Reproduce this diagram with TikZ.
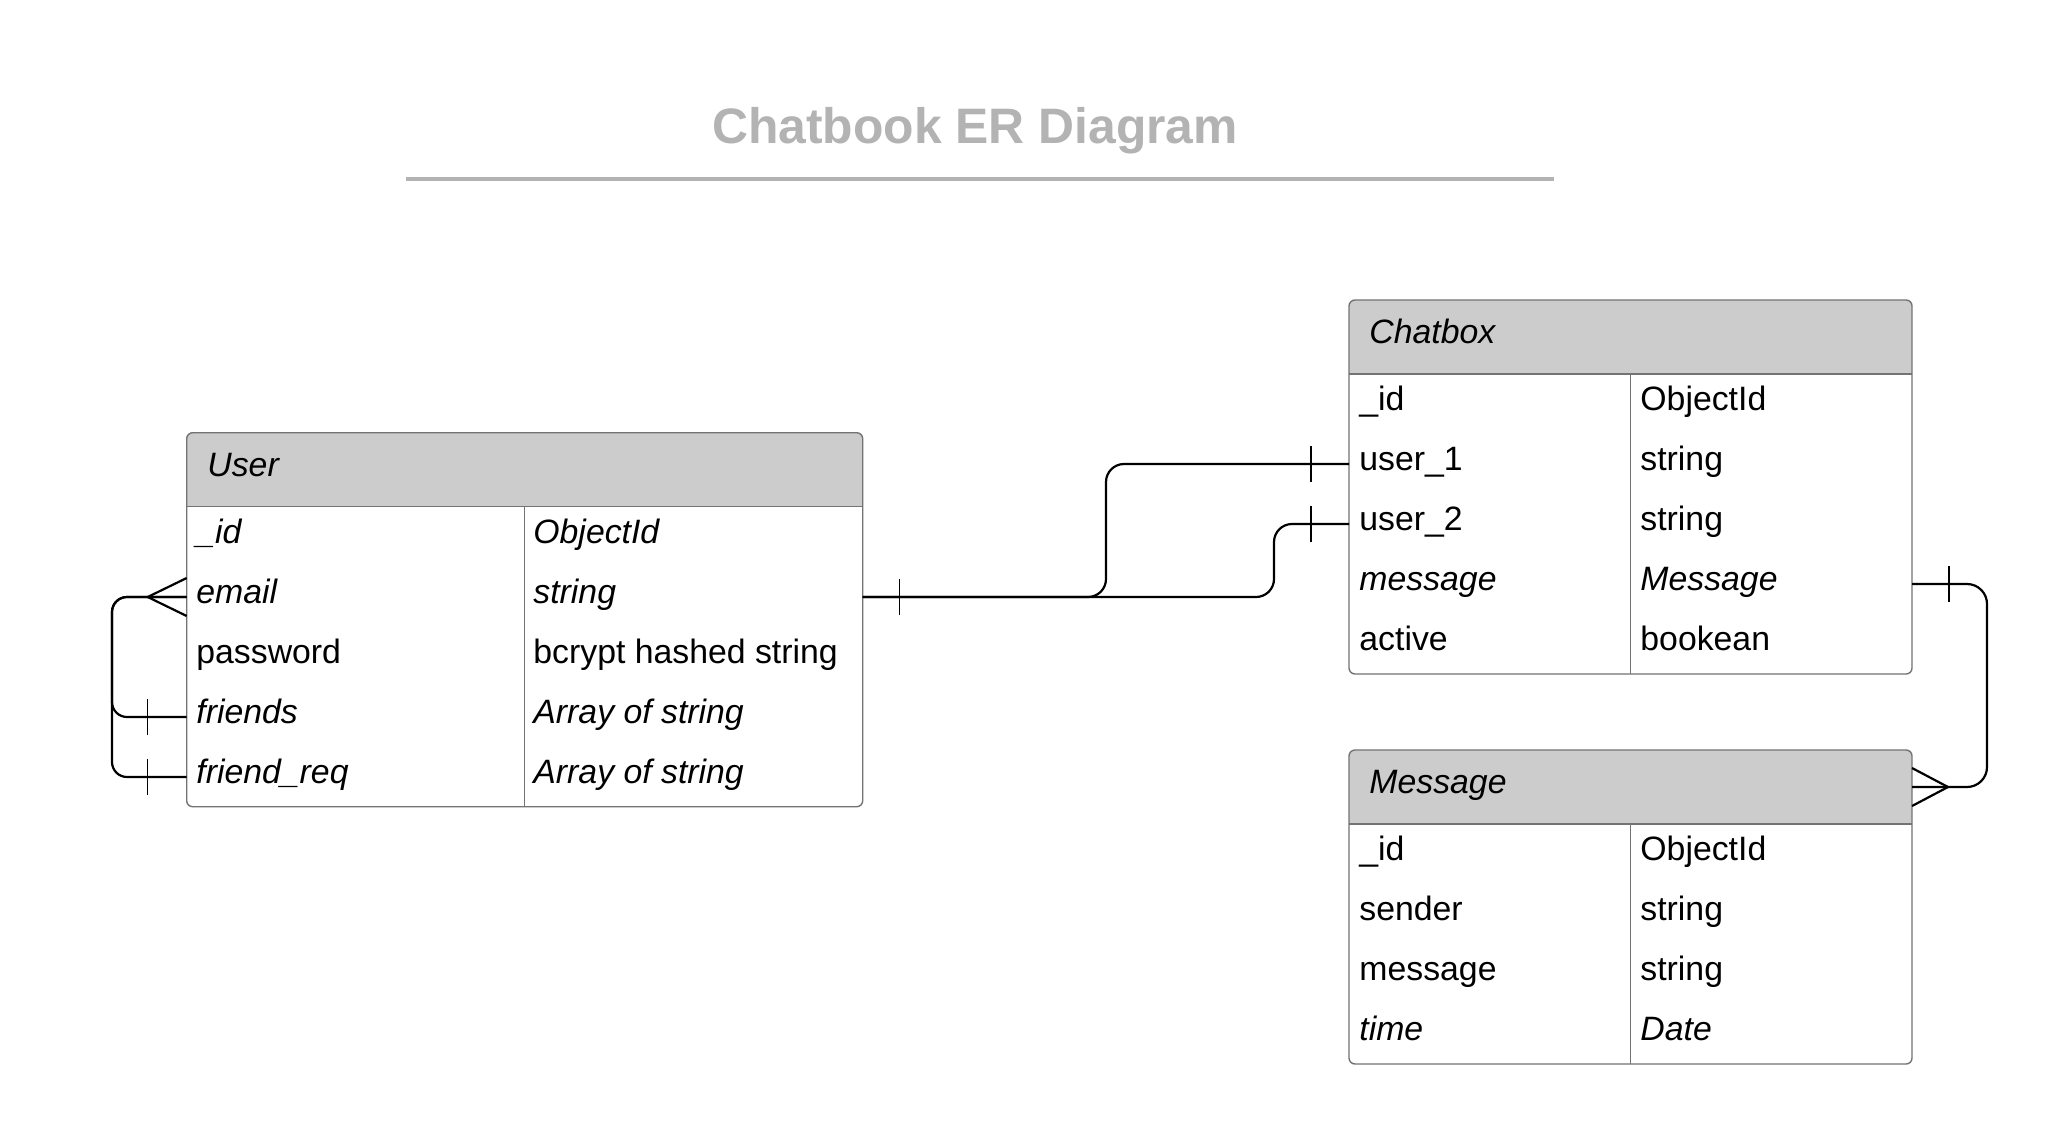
\documentclass[tikz,border=0pt]{standalone}
\usepackage{fontspec}
\setmainfont{Liberation Sans}
\usetikzlibrary{calc}
\definecolor{headgray}{HTML}{CCCCCC}
\definecolor{linegray}{HTML}{737373}
\definecolor{titlegray}{HTML}{B3B3B3}
\tikzstyle{entity} = [
	draw=linegray,
	line width=0.7pt,
	rounded corners=3pt,
	fill=white,
	inner sep=0pt,
	outer sep=0pt,
	path picture={
		\fill[headgray, sharp corners] (path picture bounding box.north west) rectangle ([yshift=-37pt]path picture bounding box.north east);
		\draw[linegray, line width=0.7pt, sharp corners] ([yshift=-37pt]path picture bounding box.north west) -- ([yshift=-37pt]path picture bounding box.north east);
		\draw[linegray, line width=0.7pt, sharp corners] ([yshift=-37pt]path picture bounding box.north) -- (path picture bounding box.south);
	}
]
\tikzstyle{field} = [
	anchor=west,
	inner sep=0pt,
	text height=0.94em,
	text depth=0.26em,
	font=\fontsize{16.9}{20}\selectfont
]
\tikzstyle{ifield} = [field, font=\fontsize{16.9}{20}\selectfont\itshape]
\tikzstyle{rel} = [line width=1.1pt, rounded corners=9pt]
\tikzstyle{tick} = [line width=0.7pt]

\begin{document}
\begin{tikzpicture}[x=0.5pt, y=-0.5pt]
    \fill[white] (0, 0) rectangle (2064, 1140);
    \useasboundingbox (0, 0) rectangle (2064, 1140);
    % title
    \node at (975, 143.3) [anchor=base, text=titlegray, font=\fontsize{24.9}{30}\selectfont\bfseries] (title) {Chatbook ER Diagram};
    \draw[titlegray, line width=1.65pt] (406, 179) -- (1554, 179);
    % tables
    \node[entity, minimum width=338pt, minimum height=187pt] (user) at (524.7, 619.7) {};
    \node[entity, minimum width=281.5pt, minimum height=187pt] (chatbox) at (1630.5, 487) {};
    \node[entity, minimum width=281.5pt, minimum height=157pt] (message) at (1630.5, 907) {};
    % User
    \node[ifield] (user-title) at (207, 470) {User};
    \node[ifield] (user-id) at (196, 537) {\_id};
    \node[ifield] (user-email) at (196, 597) {email};
    \node[field] (user-pass) at (196, 657) {password};
    \node[ifield] (user-friends) at (196, 717) {friends};
    \node[ifield] (user-freq) at (196, 777) {friend\_req};
    \node[ifield] (user-id-t) at (533, 537) {ObjectId};
    \node[ifield] (user-email-t) at (533, 597) {string};
    \node[field] (user-pass-t) at (533, 657) {bcrypt hashed string};
    \node[ifield] (user-friends-t) at (533, 717) {Array of string};
    \node[ifield] (user-freq-t) at (533, 777) {Array of string};
    % Chatbox
    \node[ifield] (chat-title) at (1369, 337) {Chatbox};
    \node[field] (chat-id) at (1359, 404) {\_id};
    \node[field] (chat-user1) at (1359, 464) {user\_1};
    \node[field] (chat-user2) at (1359, 524) {user\_2};
    \node[ifield] (chat-message) at (1359, 584) {message};
    \node[field] (chat-active) at (1359, 644) {active};
    \node[field] (chat-id-t) at (1640, 404) {ObjectId};
    \node[field] (chat-user1-t) at (1640, 464) {string};
    \node[field] (chat-user2-t) at (1640, 524) {string};
    \node[ifield] (chat-message-t) at (1640, 584) {Message};
    \node[field] (chat-active-t) at (1640, 644) {bookean};
    % Message
    \node[ifield] (msg-title) at (1369, 787) {Message};
    \node[field] (msg-id) at (1359, 854) {\_id};
    \node[field] (msg-sender) at (1359, 914) {sender};
    \node[field] (msg-message) at (1359, 974) {message};
    \node[ifield] (msg-time) at (1359, 1034) {time};
    \node[field] (msg-id-t) at (1640, 854) {ObjectId};
    \node[field] (msg-sender-t) at (1640, 914) {string};
    \node[field] (msg-message-t) at (1640, 974) {string};
    \node[ifield] (msg-time-t) at (1640, 1034) {Date};
    % User -- Chatbox
    \coordinate (forkA) at (1106, 0);
    \coordinate (forkB) at (1274, 0);
    \draw[rel] (user.east |- user-email) -| (forkA |- chat-user1) -- (chatbox.west |- chat-user1);
    \draw[rel] (user.east |- user-email) -| (forkB |- chat-user2) -- (chatbox.west |- chat-user2);
    \draw[tick] ($(user.east |- user-email)+(37, -18)$) -- ++(0, 36);
    \draw[tick] ($(chatbox.west |- chat-user1)+(-38, -18)$) -- ++(0, 36);
    \draw[tick] ($(chatbox.west |- chat-user2)+(-38, -18)$) -- ++(0, 36);
    % User -- User
    \coordinate (loop) at (112, 0);
    \draw[rel, rounded corners=7.5pt] (user.west |- user-email) -| (loop |- user-friends) -- (user.west |- user-friends);
    \draw[rel, rounded corners=7.5pt] (user.west |- user-email) -| (loop |- user-freq) -- (user.west |- user-freq);
    \draw[rel, sharp corners] ($(user.west |- user-email)+(0, -19)$) -- ++(-39, 19) -- ++(39, 19);
    \draw[tick] ($(user.west |- user-friends)+(-39, -18)$) -- ++(0, 36);
    \draw[tick] ($(user.west |- user-freq)+(-39, -18)$) -- ++(0, 36);
    % Chatbox -- Message
    \coordinate (bend) at (1987, 0);
    \draw[rel, rounded corners=10pt] (chatbox.east |- chat-message) -| (bend |- msg-title) -- (message.east |- msg-title);
    \draw[rel, sharp corners] ($(message.east |- msg-title)+(0, -19)$) -- ++(36, 19) -- ++(-36, 19);
    \draw[tick] ($(chatbox.east |- chat-message)+(37, -18)$) -- ++(0, 36);
\end{tikzpicture}
\end{document}
